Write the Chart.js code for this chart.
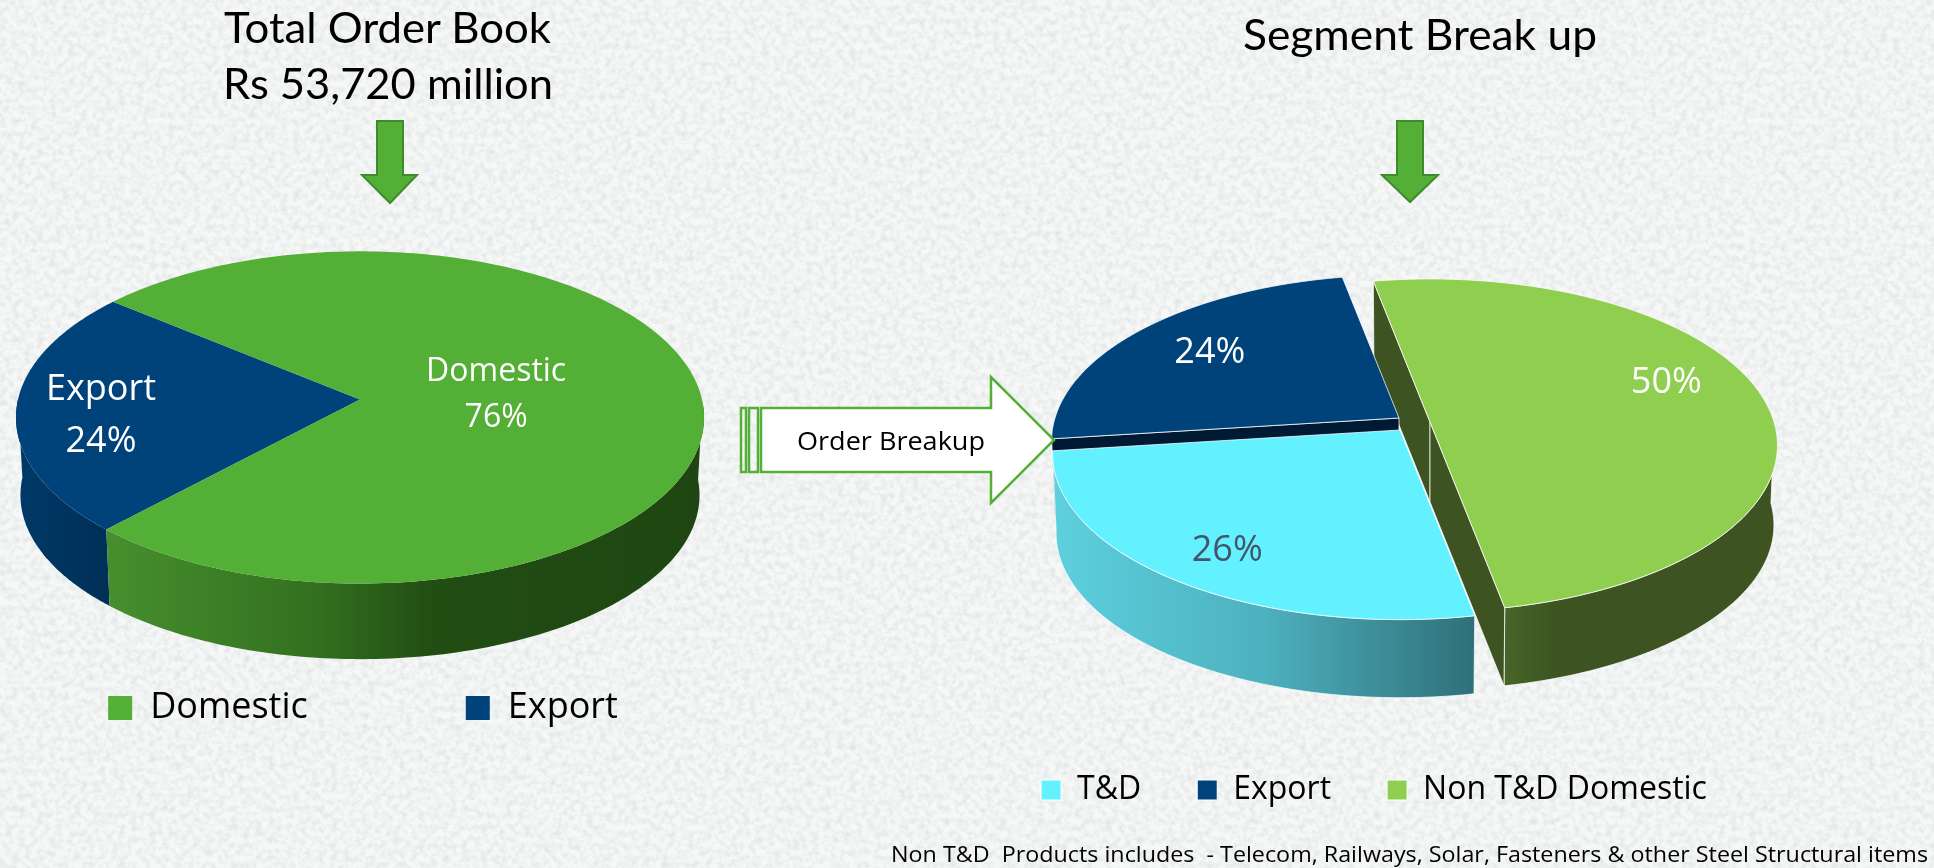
<!DOCTYPE html>
<html>
<head>
<meta charset="utf-8">
<title>Order book</title>
<script src="https://cdn.jsdelivr.net/npm/chart.js@4"></script>
<style>
  html, body { margin: 0; width: 1934px; height: 868px; overflow: hidden; background-color: #f1f3f3; }
  body {
    background-image: url("data:image/svg+xml;utf8,<svg xmlns='http://www.w3.org/2000/svg' width='1934' height='868'><filter id='n' x='0' y='0' width='100%' height='100%' color-interpolation-filters='sRGB'><feTurbulence type='fractalNoise' baseFrequency='0.16' numOctaves='4' seed='7'/><feColorMatrix values='0 0 0 0 0.84  0 0 0 0 0.86  0 0 0 0 0.86  1.3 0 0 0 -0.5'/></filter><rect width='100%' height='100%' fill='%23f6f7f7'/><rect width='100%' height='100%' filter='url(%23n)'/></svg>");
  }
  .pie { position: absolute; top: 0; height: 868px; }
  #pieLeft { left: -67px; width: 860px; }
  #pieRight { left: 883px; width: 982px; }
  #overlay { position: absolute; left: 0; top: 0; pointer-events: none; }
  .title { font-family: Lato, sans-serif; font-size: 42px; fill: #000; }
  .note { font-family: "Open Sans", sans-serif; fill: #000; }
</style>
</head>
<body>
<div class="pie" id="pieLeft"><canvas id="orderChart"></canvas></div>
<div class="pie" id="pieRight"><canvas id="segmentChart"></canvas></div>

<svg id="overlay" width="1934" height="868">
  <text class="title" x="224" y="43" textLength="327" lengthAdjust="spacingAndGlyphs">Total Order Book</text>
  <text class="title" x="223" y="99" textLength="330" lengthAdjust="spacingAndGlyphs">Rs 53,720 million</text>
  <text class="title" x="1243" y="50" textLength="354" lengthAdjust="spacingAndGlyphs">Segment Break up</text>

  <g fill="#53af36" stroke="#3f8a2a" stroke-width="2">
    <polygon points="377,121 403,121 403,175 417,175 390,203 362,175 377,175"/>
    <polygon points="1397,121 1423,121 1423,175 1438,175 1410,202 1382,175 1397,175"/>
  </g>

  <g fill="#fff" stroke="#53af36" stroke-width="2.5">
    <rect x="741" y="408" width="5" height="64" fill="none"/>
    <rect x="749" y="408" width="9" height="64" fill="none"/>
    <polygon points="761,408 991,408 991,377 1054,440 991,503 991,472 761,472"/>
  </g>
  <text class="note" x="797" y="450" font-size="26" textLength="188" lengthAdjust="spacingAndGlyphs">Order Breakup</text>

  <text class="note" x="891" y="862" font-size="21" textLength="1037" lengthAdjust="spacingAndGlyphs" xml:space="preserve">Non T&amp;D  Products includes  - Telecom, Railways, Solar, Fasteners &amp; other Steel Structural items</text>
</svg>

<script>
// values
const orderLabels = ['Domestic', 'Export']
const orderValues = [76, 24]
const orderText = [['Domestic', '76%'], ['Export', '24%']]

const segmentLabels = ['T&D', 'Export', 'Non T&D Domestic']
const segmentValues = [26, 24, 50]
const segmentText = [['26%'], ['24%'], ['50%']]

// draws the pie arcs as tilted 3D slices, angles come from the chart's own arc elements
const pie3d = {
  id: 'pie3d',
  beforeDatasetsDraw(chart, args, opts) {
    const ctx = chart.ctx
    const arcs = chart.getDatasetMeta(0).data

    const point = (arc, i, th, r, low) => {
      const s = Math.sin(th) * r
      const w = 1 - opts.perspective * s
      const k = low ? opts.shrink : 1
      return [
        arc.x + opts.shift[i][0] + k * arc.outerRadius * Math.cos(th) * r / w,
        arc.y + opts.shift[i][1] + (low ? opts.depth : 0) + k * arc.outerRadius * opts.squash * s / w
      ]
    }
    const fillPath = (pts, fill, edge) => {
      ctx.beginPath()
      pts.forEach((p, n) => n ? ctx.lineTo(p[0], p[1]) : ctx.moveTo(p[0], p[1]))
      ctx.closePath()
      ctx.fillStyle = fill
      ctx.fill()
      if (edge.borderWidth) {
        ctx.lineWidth = edge.borderWidth
        ctx.strokeStyle = edge.borderColor
        ctx.stroke()
      }
    }
    const sweep = (arc) => {
      const out = []
      for (let n = 0; n <= 240; n++) out.push(arc.startAngle + (arc.endAngle - arc.startAngle) * n / 240)
      return out
    }

    opts.order.forEach((i) => {
      const arc = arcs[i]
      const o = arc.options
      const edge = { borderWidth: o.borderWidth, borderColor: opts.edge }

      // outer wall, only the part that faces the viewer
      const front = sweep(arc).filter((th) => Math.sin(th) >= 0)
      if (front.length > 1) {
        const top = front.map((th) => point(arc, i, th, 1, false))
        const low = front.map((th) => point(arc, i, th, 1, true)).reverse()
        const xs = top.map((p) => p[0])
        const grad = ctx.createLinearGradient(Math.min(...xs), 0, Math.max(...xs), 0)
        opts.wall[i].forEach((s) => grad.addColorStop(s[0], s[1]))
        fillPath(top.concat(low), grad, edge)
      }

      // cut faces of a pulled out slice
      if (opts.faces) {
        const a = arc.startAngle
        const b = arc.endAngle
        const face = (th) => fillPath([
          point(arc, i, th, 0, false), point(arc, i, th, 1, false),
          point(arc, i, th, 1, true), point(arc, i, th, 0, true)
        ], opts.face[i], edge)
        if (Math.sin(a - Math.PI / 2) > 0) face(a)
        if (Math.sin(b + Math.PI / 2) > 0) face(b)
      }

      // top of the slice
      const rim = sweep(arc).map((th) => point(arc, i, th, 1, false))
      fillPath([point(arc, i, 0, 0, false)].concat(rim), o.backgroundColor, edge)
    })

    // slice labels
    ctx.textAlign = 'center'
    ctx.textBaseline = 'middle'
    arcs.forEach((arc, i) => {
      const mid = (arc.startAngle + arc.endAngle) / 2
      const p = point(arc, i, mid, opts.labelRadius[i], false)
      const lab = opts.labels[i]
      ctx.font = opts.labelFont[i]
      ctx.fillStyle = opts.labelColor[i]
      lab.forEach((line, n) => {
        ctx.fillText(line, p[0] + opts.labelNudge[i][0],
          p[1] + opts.labelNudge[i][1] + (n - (lab.length - 1) / 2) * opts.labelGap[i])
      })
    })
    return false
  }
}

const legendOpts = (size, box, gap) => ({
  position: 'bottom',
  labels: {
    color: '#000',
    boxWidth: box,
    boxHeight: box,
    padding: gap,
    font: { family: '"Open Sans", sans-serif', size: size }
  }
})

new Chart(document.getElementById('orderChart'), {
  type: 'pie',
  plugins: [pie3d],
  data: {
    labels: orderLabels,
    datasets: [{
      data: orderValues,
      backgroundColor: ['#53af36', '#00437a'],
      borderWidth: 0
    }]
  },
  options: {
    responsive: true,
    maintainAspectRatio: false,
    animation: false,
    events: [],
    rotation: 309.5,
    radius: 342,
    layout: { padding: { top: 267, bottom: 132 } },
    plugins: {
      tooltip: { enabled: false },
      legend: legendOpts(36, 24, 158),
      pie3d: {
        perspective: 0.108,
        squash: 0.48,
        shrink: 0.987,
        depth: 78,
        order: [1, 0],
        faces: false,
        edge: 'rgba(255,255,255,0)',
        shift: [[-3, 0], [-3, 0]],
        wall: [
          [[0, '#468f2e'], [0.35, '#33701f'], [0.55, '#214d13'], [1, '#1f4612']],
          [[0, '#003a68'], [1, '#002f57']]
        ],
        face: ['#214d13', '#002f57'],
        labels: orderText,
        labelRadius: [0.4, 0.755],
        labelNudge: [[0, 0], [0, 8]],
        labelGap: [46, 52],
        labelFont: ['32px "Open Sans", sans-serif', '36px "Open Sans", sans-serif'],
        labelColor: ['#fff', '#fff']
      }
    }
  }
})

new Chart(document.getElementById('segmentChart'), {
  type: 'pie',
  plugins: [pie3d],
  data: {
    labels: segmentLabels,
    datasets: [{
      data: segmentValues,
      backgroundColor: ['#63f0ff', '#00437a', '#90ce50'],
      borderColor: '#fff',
      borderWidth: 1
    }]
  },
  options: {
    responsive: true,
    maintainAspectRatio: false,
    animation: false,
    events: [],
    rotation: 169.2,
    radius: 344,
    layout: { padding: { top: 118, bottom: 52 } },
    plugins: {
      tooltip: { enabled: false },
      legend: legendOpts(32, 20, 56),
      pie3d: {
        perspective: 0.14,
        squash: 0.474,
        shrink: 0.99,
        depth: 80,
        order: [2, 1, 0],
        faces: true,
        edge: 'rgba(255,255,255,0.75)',
        shift: [[26, 12], [25, 0], [56, 4]],
        wall: [
          [[0, '#5dd0de'], [0.5, '#4db1be'], [1, '#2f7079']],
          [[0, '#002f57'], [1, '#002f57']],
          [[0, '#466528'], [0.2, '#3d5321'], [1, '#3d5321']]
        ],
        face: ['#3f8a96', '#001a33', '#3d5321'],
        labels: segmentText,
        labelRadius: [0.82, 0.72, 0.7],
        labelNudge: [[10, 2], [0, 0], [4, -18]],
        labelGap: [0, 0, 0],
        labelFont: ['36px "Open Sans", sans-serif', '36px "Open Sans", sans-serif', '36px "Open Sans", sans-serif'],
        labelColor: ['#44546a', '#fff', '#fff']
      }
    }
  }
})
</script>
</body>
</html>
